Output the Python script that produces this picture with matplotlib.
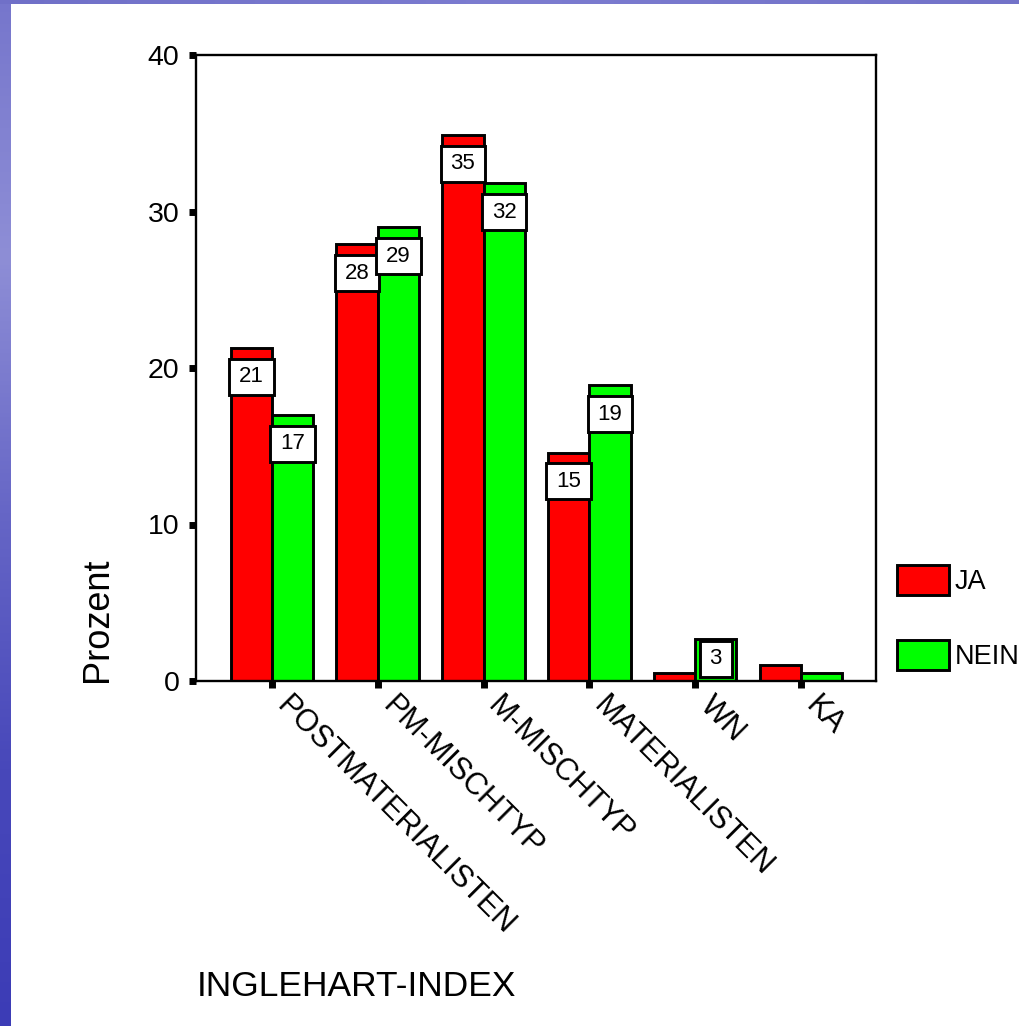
import numpy as np
import matplotlib
matplotlib.use("Agg")
import matplotlib.pyplot as plt
import matplotlib.transforms as mtransforms
from matplotlib.patches import Patch
from matplotlib.colors import LinearSegmentedColormap

plt.rcParams['font.family'] = ['Liberation Sans', 'DejaVu Sans']

# data
categories = ["POSTMATERIALISTEN", "PM-MISCHTYP", "M-MISCHTYP", "MATERIALISTEN", "WN", "KA"]
ja = [21.3, 27.9, 34.9, 14.6, 0.5, 1.0]
nein = [17.0, 29.0, 31.8, 18.9, 2.7, 0.5]
series_names = ["JA", "NEIN"]
series_colors = ["#ff0000", "#00ff00"]
yticks = [0, 10, 20, 30, 40]

W, H = 1020, 1026
fig = plt.figure(figsize=(W / 100, H / 100), dpi=100)
fig.patch.set_facecolor('white')

# blue slide border on the left and top
grad = np.linspace(0, 1, 256).reshape(-1, 1)
cmap = LinearSegmentedColormap.from_list('slide', ['#7676cc', '#8e8ed6', '#6666c6', '#4848ba', '#3c3cb6'])
bax = fig.add_axes([0, 0, 11 / W, 1])
bax.imshow(grad, aspect='auto', cmap=cmap)
bax.axis('off')
tax = fig.add_axes([0, 1 - 4 / H, 1, 4 / H])
tax.imshow(np.linspace(0, 1, 256).reshape(1, -1), aspect='auto',
           cmap=LinearSegmentedColormap.from_list('top', ['#7070c8', '#7c7cd0', '#7272c8']))
tax.axis('off')

# main plot
ax = fig.add_axes([196 / W, 1 - 681 / H, 680 / W, 626 / H])
x = np.arange(len(categories))
w = 0.39
lw = 2.1
ax.bar(x - w / 2, ja, w, color=series_colors[0], edgecolor='black', linewidth=lw, zorder=2)
ax.bar(x + w / 2, nein, w, color=series_colors[1], edgecolor='black', linewidth=lw, zorder=2)

# value boxes
for vals, off in [(ja, -w / 2), (nein, w / 2)]:
    for xi, v in zip(x, vals):
        if v < 2:
            continue
        top = v - 0.7
        bot = top - 2.3
        bw = 0.42
        if bot < 0:
            top = v - 0.12
            bot = 0.25
            bw = 0.3
        ax.bar(xi + off, top - bot, bw, bottom=bot, color='white', edgecolor='black',
               linewidth=lw, zorder=3)
        ax.text(xi + off, (top + bot) / 2, f"{round(v)}", ha='center', va='center',
                fontsize=16, zorder=4)

ax.set_xlim(-0.718, 5.71)
ax.set_ylim(0, 40)
ax.set_yticks(yticks)
ax.set_xticks(x)
ax.set_xticklabels(categories, rotation=-45, ha='left', va='center', rotation_mode='anchor')
for s in ax.spines.values():
    s.set_linewidth(1.7)
ax.tick_params(axis='y', length=5, width=5, pad=7, labelsize=20.5)
ax.tick_params(axis='x', length=5, width=5, pad=10, labelsize=22)
shift = mtransforms.ScaledTranslation(9 / 100, 0, fig.dpi_scale_trans)
for lab in ax.get_xticklabels():
    lab.set_transform(lab.get_transform() + shift)

fig.text(98 / W, 1 - 682 / H, 'Prozent', rotation=90, ha='center', va='bottom', fontsize=26)
fig.text(197 / W, 1 - 987 / H, 'INGLEHART-INDEX', ha='left', va='center', fontsize=25.5)

handles = [Patch(facecolor=c, edgecolor='black', linewidth=lw) for c in series_colors]
fs = 19.5
fpx = fs * 100 / 72
fig.legend(handles, series_names, loc='upper left', bbox_to_anchor=(897 / W, 1 - 565 / H),
           frameon=False, fontsize=fs, handlelength=52 / fpx, handleheight=36 / fpx,
           labelspacing=(81 - 36) / fpx, handletextpad=6 / fpx, borderpad=0, borderaxespad=0)

fig.savefig('out.png', dpi=100)
